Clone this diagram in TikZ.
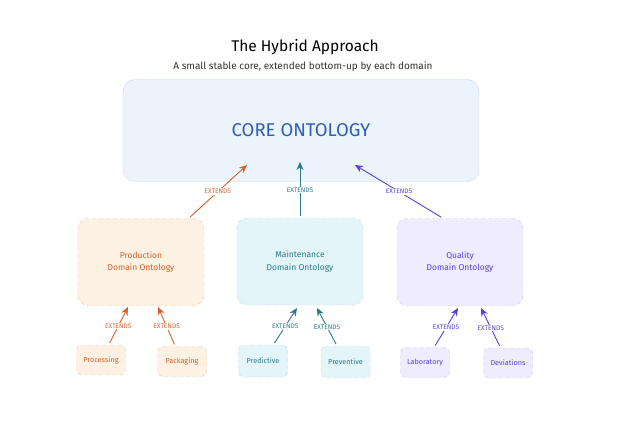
\documentclass[tikz,border=0pt]{standalone}
\usepackage{fontspec}
\setmainfont{Fira Sans}
\usepackage{tikz}
\usetikzlibrary{arrows.meta}

\definecolor{corefill}{HTML}{EBF3FC}
\definecolor{coreline}{HTML}{C5D8EF}
\definecolor{coretext}{HTML}{2F5FB3}
\definecolor{prodfill}{HTML}{FDF1E3}
\definecolor{prodline}{HTML}{F2C9AE}
\definecolor{prodtext}{HTML}{D4602A}
\definecolor{maintfill}{HTML}{E4F5F9}
\definecolor{maintline}{HTML}{B8DCE4}
\definecolor{mainttext}{HTML}{2B7A87}
\definecolor{qualfill}{HTML}{EFECFD}
\definecolor{qualline}{HTML}{CBC3F3}
\definecolor{qualtext}{HTML}{5A3ED6}

\begin{document}
\begin{tikzpicture}[x=1pt,y=-1pt,
    domainbox/.style={draw, dash pattern=on 4pt off 3pt, rounded corners=10pt, align=center,
      inner sep=0pt, minimum width=126pt, minimum height=87pt, font=\fontsize{8.5}{12.5}\selectfont},
    leafbox/.style={draw, dash pattern=on 4pt off 3pt, rounded corners=5pt, inner sep=0pt,
      minimum width=49pt, minimum height=30pt, font=\fontsize{7.3}{8}\selectfont},
    extends/.style={-{Stealth[length=8pt,width=7pt]}, line width=0.9pt, shorten <=2pt},
    extlabel/.style={midway, fill=white, inner sep=1pt, font=\fontsize{6.6}{7}\selectfont}]

    % Frame
    \useasboundingbox (0,0) rectangle (624,425);

    % Title
    \node[font=\fontsize{15.5}{18}\selectfont] (title) at (305,47) {The Hybrid Approach};
    \node[text=black!80, font=\fontsize{10}{12}\selectfont] (subtitle) at (303,67) {A small stable core, extended bottom-up by each domain};

    % Core
    \node[draw=coreline, fill=corefill, rounded corners=12pt, minimum width=356pt, minimum height=102pt,
      text=coretext, font=\fontsize{18.5}{22}\selectfont] (core) at (301,130.5) {CORE ONTOLOGY};

    % Domain ontologies
    \node[domainbox, draw=prodline, fill=prodfill, text=prodtext] (prod) at (141,262) {Production\\Domain Ontology};
    \node[domainbox, draw=maintline, fill=maintfill, text=mainttext] (maint) at (300,261.5) {Maintenance\\Domain Ontology};
    \node[domainbox, draw=qualline, fill=qualfill, text=qualtext] (qual) at (460,262) {Quality\\Domain Ontology};

    % Sub-domains
    \node[leafbox, draw=prodline, fill=prodfill, text=prodtext] (proc) at (101,360) {Processing};
    \node[leafbox, draw=prodline, fill=prodfill, text=prodtext] (pack) at (182,361.5) {Packaging};
    \node[leafbox, draw=maintline, fill=maintfill, text=mainttext, minimum height=32pt] (pred) at (263,361) {Predictive};
    \node[leafbox, draw=maintline, fill=maintfill, text=mainttext, minimum height=32pt] (prev) at (345.5,362) {Preventive};
    \node[leafbox, draw=qualline, fill=qualfill, text=qualtext] (lab) at (425,362.5) {Laboratory};
    \node[leafbox, draw=qualline, fill=qualfill, text=qualtext] (dev) at (508,363) {Deviations};

    % Arrow ends
    \coordinate (corein1) at (247,165);
    \coordinate (corein2) at (300,162);
    \coordinate (corein3) at (355,165);
    \coordinate (prodin1) at (128,307);
    \coordinate (prodin2) at (158,307);
    \coordinate (maintin1) at (297,308);
    \coordinate (maintin2) at (317,308);
    \coordinate (qualin1) at (458,308);
    \coordinate (qualin2) at (481,308);

    % Domains extend the core
    \draw[extends, prodtext] (prod) -- (corein1) node[extlabel] {EXTENDS};
    \draw[extends, mainttext] (maint) -- (corein2) node[extlabel] {EXTENDS};
    \draw[extends, qualtext] ([xshift=-17pt]qual.north) -- (corein3) node[extlabel] {EXTENDS};

    % Sub-domains extend the domains
    \draw[extends, prodtext] (proc) -- (prodin1) node[extlabel] {EXTENDS};
    \draw[extends, prodtext] (pack) -- (prodin2) node[extlabel] {EXTENDS};
    \draw[extends, mainttext] (pred) -- (maintin1) node[extlabel] {EXTENDS};
    \draw[extends, mainttext] (prev) -- (maintin2) node[extlabel] {EXTENDS};
    \draw[extends, qualtext] (lab) -- (qualin1) node[extlabel] {EXTENDS};
    \draw[extends, qualtext] (dev) -- (qualin2) node[extlabel] {EXTENDS};
\end{tikzpicture}
\end{document}
